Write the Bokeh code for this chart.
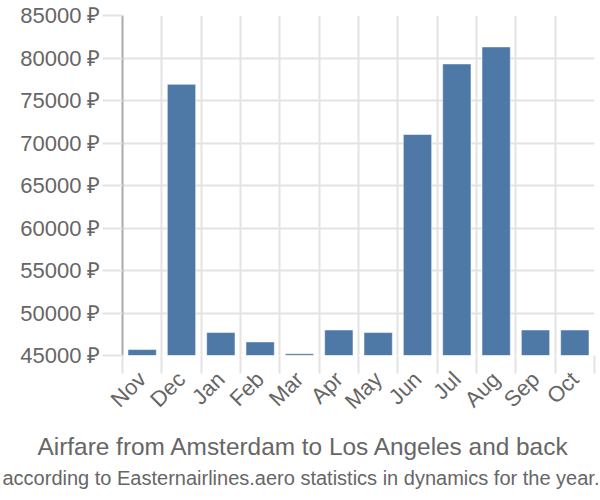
import math
from bokeh.plotting import figure
from bokeh.models import Range1d, FixedTicker, CustomJSTickFormatter, Title, ColumnDataSource
from bokeh.embed import file_html
from bokeh.resources import INLINE

months = ["Nov", "Dec", "Jan", "Feb", "Mar", "Apr", "May", "Jun", "Jul", "Aug", "Sep", "Oct"]
prices = [45700, 76900, 47700, 46600, 45200, 48000, 47700, 71000, 79300, 81300, 48000, 48000]
y_ticks = [45000, 50000, 55000, 60000, 65000, 70000, 75000, 80000, 85000]
y_tick_labels = ["45000 ₽", "50000 ₽", "55000 ₽", "60000 ₽", "65000 ₽", "70000 ₽", "75000 ₽", "80000 ₽", "85000 ₽"]
title_text = "Airfare from Amsterdam to Los Angeles and back"
subtitle_text = "according to Easternairlines.aero statistics in dynamics for the year."

FONT = "Liberation Sans"
GRAY = "#666666"
GRID = "#e3e3e3"

p = figure(width=600, height=500, output_backend="svg", toolbar_location=None,
           x_range=Range1d(0, len(months)), y_range=Range1d(y_ticks[0], y_ticks[-1]),
           min_border_left=122, min_border_right=6, min_border_top=15, min_border_bottom=145)
p.outline_line_color = None
p.background_fill_color = "white"

src = ColumnDataSource(dict(x=[i + 0.5 for i in range(len(months))], top=prices))
p.vbar(x="x", top="top", bottom=y_ticks[0], width=0.72, source=src,
       fill_color="#4e79a7", line_color="white", line_alpha=0.5, line_width=1)

# y axis
ya = p.yaxis[0]
ya.ticker = FixedTicker(ticks=y_ticks, minor_ticks=[])
ya.major_label_overrides = {t: l for t, l in zip(y_ticks, y_tick_labels)}
ya.major_label_text_font = FONT
ya.major_label_text_font_size = "22px"
ya.major_label_text_color = GRAY
ya.major_tick_out = 20
ya.major_tick_in = 0
ya.major_tick_line_color = GRID
ya.major_tick_line_width = 2
ya.major_label_standoff = 2
ya.axis_line_color = "#aaaaaa"
ya.axis_line_width = 2
ya.minor_tick_line_color = None

# x axis
xa = p.xaxis[0]
xa.ticker = FixedTicker(ticks=[i + 0.5 for i in range(len(months))],
                        minor_ticks=list(range(len(months) + 1)))
xa.formatter = CustomJSTickFormatter(args=dict(m=months), code="return m[Math.floor(tick)] || ''")
xa.major_label_orientation = math.pi / 4
xa.major_label_text_font = FONT
xa.major_label_text_font_size = "22px"
xa.major_label_text_color = GRAY
xa.major_tick_line_color = None
xa.major_tick_out = 16
xa.major_tick_in = 0
xa.minor_tick_out = 18
xa.minor_tick_in = 0
xa.minor_tick_line_color = GRID
xa.minor_tick_line_width = 2
xa.axis_line_color = None
xa.major_label_standoff = 2

p.ygrid.ticker = FixedTicker(ticks=y_ticks)
p.ygrid.grid_line_color = GRID
p.ygrid.grid_line_width = 2
p.xgrid.grid_line_color = None
p.xgrid.minor_grid_line_color = GRID
p.xgrid.minor_grid_line_width = 2

p.add_layout(Title(text=title_text, align="left", offset=-85, text_font=FONT,
                   text_font_size="24.4px", text_color=GRAY, text_font_style="normal",
                   standoff=10), "below")
p.add_layout(Title(text=subtitle_text, align="left", offset=-120, text_font=FONT,
                   text_font_size="20px", text_color=GRAY, text_font_style="normal",
                   standoff=0), "below")

open("out.html", "w").write(file_html(p, INLINE))
